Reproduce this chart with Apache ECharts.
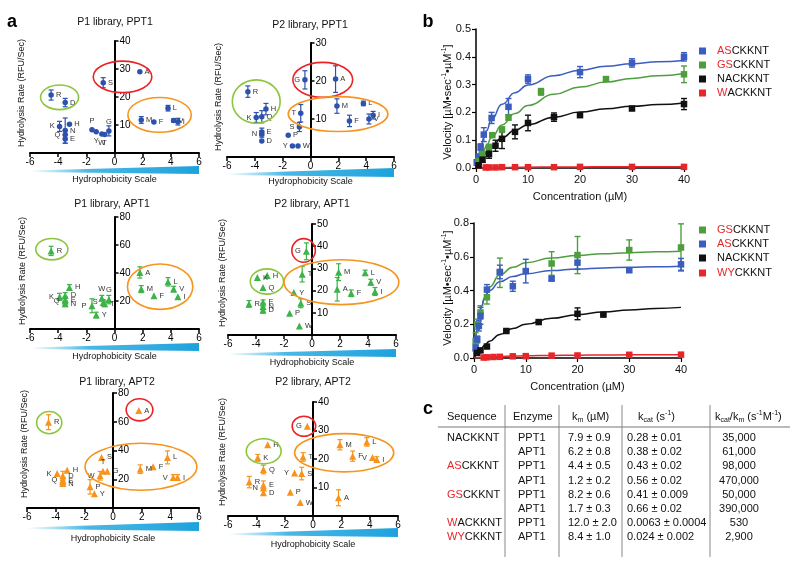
<!DOCTYPE html>
<html><head><meta charset="utf-8">
<script src="https://cdn.jsdelivr.net/npm/echarts/dist/echarts.min.js"></script>
<style>html,body{margin:0;padding:0;background:#fff}#c{width:800px;height:567px}</style>
</head><body><div id="c"></div>
<script>
// ---------------- DATA ----------------
const aminoAcids    = ['R','K','N','D','Q','E','H','P','Y','W','S','T','G','A','M','F','L','V','I'];
const hydrophobicity = [-4.5,-3.9,-3.5,-3.5,-3.5,-3.5,-3.2,-1.6,-1.3,-0.9,-0.8,-0.7,-0.4,1.8,1.9,2.8,3.8,4.2,4.5];

const p1Ppt1Rate = [20.7,9.5,8.0,18.0,6.5,5.0,10.3,8.3,7.6,6.8,25.1,6.6,7.9,29.0,11.8,11.1,16.0,11.6,11.2];
const p1Ppt1Err  = [1.8,1.8,4.5,1.5,1.5,1.5,0,0,0,0,1.8,0,1.8,0,1.2,0,1.0,0.6,1.2];
const p2Ppt1Rate = [17.2,10.4,6.0,4.2,10.6,6.6,12.6,5.7,2.9,2.9,7.9,11.5,20.3,20.5,13.4,9.5,14.1,10.0,11.0];
const p2Ppt1Err  = [1.5,1.3,0.8,0,1.6,1.0,1.5,0,0,0,1.2,2.3,2.4,3.5,1.9,1.5,0.6,1.3,1.0];
const p1Apt1Rate = [55.8,23.0,18.0,24.0,20.0,21.0,29.7,16.6,10.0,22.0,19.0,18.0,21.0,40.4,28.5,23.8,33.7,28.5,23.0];
const p1Apt1Err  = [3.3,2.5,2,2,2,2,2,5,2,2,2,2,3,4,2.5,0,3,2,0];
const p2Apt1Rate = [14.0,25.9,12.8,11.3,21.4,14.8,26.8,9.8,19.1,4.1,14.3,27.4,37.7,20.6,28.3,18.8,28.0,23.8,19.6];
const p2Apt1Err  = [1.5,0,1.5,1.5,0,1.0,0,0,0,0,2.0,3.5,3.8,5.3,3.8,1.5,1.2,1.3,1.8];
const p1Apt2Rate = [59.7,24.0,17.0,22.5,19.5,18.5,26.3,14.7,10.0,22.4,35.2,25.6,25.6,67.8,27.0,28.7,35.2,21.2,21.2];
const p1Apt2Err  = [5.2,0,2,3,2,2,0,5,0,3,0,0,0,0,3,0,4.5,2,2];
const p2Apt2Rate = [11.9,20.4,9.8,8.2,16.3,10.8,25.0,8.3,15.1,4.7,14.9,20.7,31.5,6.4,25.0,21.0,26.0,20.5,19.8];
const p2Apt2Err  = [2.0,1.2,0,0,1.5,1.5,0,0,0,0,2.2,1.5,0,2.8,1.8,1.8,1.5,0,1.0];

// panel b : PPT1 (top)
const asPpt1Conc = [0.15,0.5,0.9,1.5,3.0,6.25,10,20,30,40];
const asPpt1Vel  = [0.02,0.04,0.075,0.12,0.18,0.22,0.32,0.345,0.378,0.40];
const asPpt1Err  = [0.01,0.01,0.012,0.025,0.02,0.03,0.015,0.02,0.015,0.015];
const gsPpt1Conc = [0.5,1.25,2.5,3.125,5,6.25,12.5,25,40];
const gsPpt1Vel  = [0.025,0.05,0.075,0.118,0.138,0.182,0.274,0.32,0.337];
const gsPpt1Err  = [0.005,0.01,0.01,0.005,0.01,0.01,0.012,0.008,0.03];
const naPpt1Conc = [0.5,1.25,2.5,3.75,5,7.5,10,15,20,30,40];
const naPpt1Vel  = [0.01,0.03,0.05,0.08,0.105,0.13,0.162,0.183,0.19,0.214,0.23];
const naPpt1Err  = [0.005,0.01,0.015,0.02,0.035,0.025,0.028,0.015,0.005,0.005,0.02];
const waPpt1Conc = [1.875,2.5,3.75,5,7.5,10,15,20,30,40];
const waPpt1Vel  = [0.002,0.002,0.002,0.003,0.003,0.003,0.003,0.004,0.004,0.004];
// panel b : APT1 (bottom)
const gsApt1Conc = [0.3125,0.625,1.25,2.5,5,15,20,30,40];
const gsApt1Vel  = [0.1,0.2,0.27,0.36,0.505,0.56,0.61,0.64,0.655];
const gsApt1Err  = [0.05,0.03,0.04,0.04,0.087,0.07,0.11,0.06,0.14];
const asApt1Conc = [0.3125,0.625,0.9375,1.25,2.5,5,7.5,10,15,20,30,40];
const asApt1Vel  = [0.06,0.11,0.19,0.25,0.405,0.51,0.425,0.515,0.47,0.565,0.52,0.555];
const asApt1Err  = [0.02,0.02,0.03,0.05,0.03,0.04,0.03,0.07,0.01,0.04,0.01,0.035];
const naApt1Conc = [0.625,1.25,2.5,6.25,12.5,20,25];
const naApt1Vel  = [0.03,0.045,0.068,0.16,0.213,0.262,0.257];
const naApt1Err  = [0,0,0.01,0.005,0.005,0.035,0.005];
const wyApt1Conc = [1.875,2.5,3.75,5,7.5,10,15,20,30,40];
const wyApt1Vel  = [0.003,0.004,0.006,0.007,0.01,0.011,0.014,0.015,0.019,0.02];

// fitted curves
const curveConc = [0,0.25,0.5,0.75,1,1.5,2,3,5,7.5,10,15,20,25,30,35,40];
const asPpt1Fit = [0,.023,.044,.063,.080,.110,.134,.175,.229,.271,.299,.332,.352,.366,.375,.382,.387];
const gsPpt1Fit = [0,.012,.024,.034,.045,.063,.081,.110,.155,.196,.225,.265,.291,.309,.322,.332,.340];
const naPpt1Fit = [0,.009,.017,.024,.031,.045,.057,.077,.109,.136,.156,.183,.201,.213,.222,.228,.234];
const waPpt1Fit = [0,.0001,.0003,.0004,.0005,.0007,.001,.0013,.0019,.0025,.0029,.0035,.0040,.0043,.0045,.0047,.0048];
const gsApt1Fit = [0,.085,.150,.202,.244,.309,.357,.421,.493,.538,.564,.593,.608,.618,.624,.629,.633];
const asApt1Fit = [0,.097,.165,.215,.255,.311,.350,.400,.452,.483,.500,.518,.528,.534,.538,.541,.544];
const naApt1Fit = [0,.011,.022,.032,.042,.059,.075,.100,.140,.175,.200,.235,.257,.273,.285,.294,.300];
const wyApt1Fit = [0,.0007,.0014,.002,.0026,.0036,.0046,.0063,.009,.0113,.013,.0154,.0169,.018,.0188,.0194,.0198];

// panel c table
const tableSeqRed  = ['', '', 'AS', '', 'GS', '', 'W', 'WY'];
const tableSeqRest = ['NACKKNT', '', 'CKKNT', '', 'CKKNT', '', 'ACKKNT', 'CKKNT'];
const tableEnzyme  = ['PPT1','APT1','PPT1','APT1','PPT1','APT1','PPT1','APT1'];
const tableKm      = ['7.9 ± 0.9','6.2 ± 0.8','4.4 ± 0.5','1.2 ± 0.2','8.2 ± 0.6','1.7 ± 0.3','12.0 ± 2.0','8.4 ± 1.0'];
const tableKcat    = ['0.28 ± 0.01','0.38 ± 0.02','0.43 ± 0.02','0.56 ± 0.02','0.41 ± 0.009','0.66 ± 0.02','0.0063 ± 0.0004','0.024 ± 0.002'];
const tableEff     = ['35,000','61,000','98,000','470,000','50,000','390,000','530','2,900'];

// ---------------- STYLE / LAYOUT ----------------
const FONT = '"Liberation Sans", Arial, Helvetica, sans-serif';
const BLUE_A = '#2d52ad', GREEN_A = '#3db34a', ORANGE_A = '#f7941d';
const GREEN_E = '#8cc63f', RED_E = '#ec2227', ORANGE_E = '#f7941d';
const BLUE_B = '#3a5dbf', GREEN_B = '#4f9e3e', RED_B = '#e8262a', BLACK_B = '#111111';

const panelsA = [
  {title:'P1 library, PPT1', rate:p1Ppt1Rate, err:p1Ppt1Err, yMax:40, yInt:10, grid:[30,41,169,112], color:BLUE_A, symbol:'circle',
   titleXY:[115,22], yLabelXY:[22,93], wedgeY:[166,174], scaleY:180,
   labelPos:{K:'left',Q:'left',P:'top',Y:'bottom',T:'bottom',W:'bottom',G:'top'},
   ellipses:[[-3.9,19.9,1.35,4.4,GREEN_E],[0.57,27.2,2.08,5.6,RED_E],[3.2,13.6,2.25,6.2,ORANGE_E]]},
  {title:'P2 library, PPT1', rate:p2Ppt1Rate, err:p2Ppt1Err, yMax:30, yInt:10, grid:[227,43,167,114], color:BLUE_A, symbol:'circle',
   titleXY:[310,25], yLabelXY:[219,97], wedgeY:[168,177], scaleY:182,
   labelPos:{K:'left',N:'left',Y:'left',S:'left',T:'left',G:'left'},
   ellipses:[[-3.9,14.6,1.72,5.7,GREEN_E],[0.88,20.3,2.15,4.6,RED_E],[1.98,11.3,3.58,4.6,ORANGE_E]]},
  {title:'P1 library, APT1', rate:p1Apt1Rate, err:p1Apt1Err, yMax:80, yInt:20, grid:[30,217,169,112], color:GREEN_A, symbol:'triangle',
   titleXY:[112,204], yLabelXY:[23,271], wedgeY:[343,351], scaleY:357,
   labelPos:{K:'left',Q:'left',P:'left',W:'top',S:'left',G:'top'},
   ellipses:[[-4.45,57,1.14,7.6,GREEN_E],[3.24,30.2,2.32,16.2,ORANGE_E]]},
  {title:'P2 library, APT1', rate:p2Apt1Rate, err:p2Apt1Err, yMax:50, yInt:10, grid:[228,224,168,111], color:GREEN_A, symbol:'triangle',
   titleXY:[312,204], yLabelXY:[223,273], wedgeY:[349,357], scaleY:363,
   labelPos:{G:'left'},
   ellipses:[[-0.6,38.1,0.84,5.3,RED_E],[-3.22,24.1,1.19,5.7,GREEN_E],[2.1,23.8,4.1,10.1,ORANGE_E]]},
  {title:'P1 library, APT2', rate:p1Apt2Rate, err:p1Apt2Err, yMax:80, yInt:20, grid:[27,393,172,115], color:ORANGE_A, symbol:'triangle',
   titleXY:[117,382], yLabelXY:[25,444], wedgeY:[522,531], scaleY:539,
   labelPos:{K:'left',Q:'left',W:'left',T:'top',V:'left'},
   ellipses:[[-4.45,59.4,0.88,7.7,GREEN_E],[1.85,68.3,0.93,7.7,RED_E],[1.95,28.7,3.9,16.3,ORANGE_E]]},
  {title:'P2 library, APT2', rate:p2Apt2Rate, err:p2Apt2Err, yMax:40, yInt:10, grid:[228,402,170,114], color:ORANGE_A, symbol:'triangle',
   titleXY:[313,382], yLabelXY:[223,452], wedgeY:[528,537], scaleY:545,
   labelPos:{N:'left',Y:'left',G:'left',V:'left'},
   ellipses:[[-0.64,31.5,0.83,3.5,RED_E],[-3.48,22.7,1.23,4.4,GREEN_E],[2.2,22.2,3.5,6.7,ORANGE_E]]}
];

const panelsB = [
  {grid:[476,29,208,139], yMax:0.5, yInt:0.1, yLabelXY:[448,102], xNameY:197, legendY:[51,65,79,93],
   sets:[
     {red:'AS', rest:'CKKNT', color:BLUE_B, conc:asPpt1Conc, vel:asPpt1Vel, err:asPpt1Err, fit:asPpt1Fit},
     {red:'GS', rest:'CKKNT', color:GREEN_B, conc:gsPpt1Conc, vel:gsPpt1Vel, err:gsPpt1Err, fit:gsPpt1Fit},
     {red:'', rest:'NACKKNT', color:BLACK_B, conc:naPpt1Conc, vel:naPpt1Vel, err:naPpt1Err, fit:naPpt1Fit},
     {red:'W', rest:'ACKKNT', color:RED_B, conc:waPpt1Conc, vel:waPpt1Vel, err:null, fit:waPpt1Fit}]},
  {grid:[474,223,207,135], yMax:0.8, yInt:0.2, yLabelXY:[448,288], xNameY:387, legendY:[230,244,258,273],
   sets:[
     {red:'GS', rest:'CKKNT', color:GREEN_B, conc:gsApt1Conc, vel:gsApt1Vel, err:gsApt1Err, fit:gsApt1Fit},
     {red:'AS', rest:'CKKNT', color:BLUE_B, conc:asApt1Conc, vel:asApt1Vel, err:asApt1Err, fit:asApt1Fit},
     {red:'', rest:'NACKKNT', color:BLACK_B, conc:naApt1Conc, vel:naApt1Vel, err:naApt1Err, fit:naApt1Fit},
     {red:'WY', rest:'CKKNT', color:RED_B, conc:wyApt1Conc, vel:wyApt1Vel, err:null, fit:wyApt1Fit}]}
];

// ---------------- BUILD ----------------
function errRender(color, capW, lw) {
  return function (params, api) {
    const x = api.value(0), y = api.value(1), e = api.value(2);
    const lo = api.coord([x, y - e]), hi = api.coord([x, y + e]);
    const st = {stroke: color, lineWidth: lw};
    return {type: 'group', children: [
      {type: 'line', shape: {x1: lo[0], y1: lo[1], x2: hi[0], y2: hi[1]}, style: st},
      {type: 'line', shape: {x1: lo[0] - capW / 2, y1: lo[1], x2: lo[0] + capW / 2, y2: lo[1]}, style: st},
      {type: 'line', shape: {x1: hi[0] - capW / 2, y1: hi[1], x2: hi[0] + capW / 2, y2: hi[1]}, style: st}
    ]};
  };
}

const grids = [], xAxes = [], yAxes = [], series = [];
panelsA.forEach((p, gi) => {
  grids.push({left: p.grid[0], top: p.grid[1], width: p.grid[2], height: p.grid[3], containLabel: false, outerBoundsMode: 'none'});
  xAxes.push({gridIndex: gi, type: 'value', min: -6, max: 6, interval: 2,
    axisLine: {onZero: false, lineStyle: {color: '#000', width: 2}},
    axisTick: {show: true, length: 4, lineStyle: {color: '#000', width: 1.5}},
    axisLabel: {color: '#000', fontSize: 10, margin: 4, fontFamily: FONT, hideOverlap: false},
    splitLine: {show: false}});
  // the y axis sits at x = 0, i.e. half of the grid width to the right of its left edge
  yAxes.push({gridIndex: gi, type: 'value', min: 0, max: p.yMax, interval: p.yInt,
    position: 'left', offset: -p.grid[2] / 2,
    axisLine: {show: true, onZero: false, lineStyle: {color: '#000', width: 2}},
    axisTick: {show: true, inside: true, length: 4, lineStyle: {color: '#000', width: 1.5}},
    axisLabel: {inside: true, showMinLabel: false, color: '#000', fontSize: 10, margin: 5, fontFamily: FONT},
    splitLine: {show: false}});
  series.push({type: 'custom', xAxisIndex: gi, yAxisIndex: gi, silent: true, z: 2,
    renderItem: errRender(p.color, 5, 1.2),
    data: aminoAcids.map((aa, i) => [hydrophobicity[i], p.rate[i], p.err[i]]).filter(d => d[2] > 0)});
  series.push({type: 'scatter', xAxisIndex: gi, yAxisIndex: gi, z: 3, silent: true,
    symbol: p.symbol, symbolSize: p.symbol === 'circle' ? 5.5 : 7,
    itemStyle: {color: p.color, opacity: 1},
    label: {show: true, formatter: '{b}', fontSize: 7.5, color: '#333', distance: 2, fontFamily: FONT},
    data: aminoAcids.map((aa, i) => ({name: aa, value: [hydrophobicity[i], p.rate[i]],
      label: {position: p.labelPos[aa] || 'right'}}))});
});

panelsB.forEach((p, k) => {
  const gi = panelsA.length + k;
  grids.push({left: p.grid[0], top: p.grid[1], width: p.grid[2], height: p.grid[3], containLabel: false, outerBoundsMode: 'none'});
  xAxes.push({gridIndex: gi, type: 'value', min: 0, max: 40, interval: 10,
    axisLine: {onZero: false, lineStyle: {color: '#000', width: 1.5}},
    axisTick: {show: true, length: 4, lineStyle: {color: '#000', width: 1.2}},
    axisLabel: {color: '#111', fontSize: 11, margin: 6, fontFamily: FONT},
    splitLine: {show: false}});
  yAxes.push({gridIndex: gi, type: 'value', min: 0, max: p.yMax, interval: p.yInt,
    axisLine: {show: true, onZero: false, lineStyle: {color: '#000', width: 1.5}},
    axisTick: {show: true, length: 4, lineStyle: {color: '#000', width: 1.2}},
    axisLabel: {color: '#111', fontSize: 11, margin: 5, fontFamily: FONT, formatter: v => v.toFixed(1)},
    splitLine: {show: false}});
  p.sets.forEach(s => {
    series.push({type: 'line', xAxisIndex: gi, yAxisIndex: gi, z: 2, silent: true, showSymbol: false,
      smooth: true, smoothMonotone: 'x', lineStyle: {color: s.color, width: 1.5},
      data: curveConc.map((c, i) => [c, s.fit[i]])});
    if (s.err) series.push({type: 'custom', xAxisIndex: gi, yAxisIndex: gi, z: 3, silent: true,
      renderItem: errRender(s.color, 6, 1.4),
      data: s.conc.map((c, i) => [c, s.vel[i], s.err[i]]).filter(d => d[2] > 0)});
    series.push({type: 'scatter', xAxisIndex: gi, yAxisIndex: gi, z: 4, silent: true,
      symbol: 'rect', symbolSize: 6.5, itemStyle: {color: s.color, opacity: 1},
      data: s.conc.map((c, i) => [c, s.vel[i]])});
  });
});

const chart = echarts.init(document.getElementById('c'), null, {renderer: 'canvas', width: 800, height: 567});
chart.setOption({animation: false, backgroundColor: '#fff', grid: grids, xAxis: xAxes, yAxis: yAxes, series: series});

// ---------------- GRAPHIC (texts, wedges, ellipses, legends, table) ----------------
const G = [];
function txt(x, y, text, o) {
  o = o || {};
  G.push({type: 'text', x: x, y: y, rotation: o.rot || 0, z: 10, silent: true,
    style: {text: text, fill: o.fill || '#111', fontSize: o.size || 11, fontFamily: FONT,
      fontWeight: o.weight || 'normal', align: o.align || 'center', verticalAlign: o.va || 'middle', rich: o.rich}});
}
const richBase = {
  k: {fontSize: 11, fontFamily: FONT, fill: '#111', lineHeight: 14},
  s: {fontSize: 7, fontFamily: FONT, fill: '#111', lineHeight: 8, verticalAlign: 'bottom'},
  p: {fontSize: 7, fontFamily: FONT, fill: '#111', lineHeight: 8, verticalAlign: 'top'},
  r: {fontSize: 11, fontFamily: FONT, fill: RED_B, lineHeight: 14}
};

txt(12, 22, 'a', {size: 18, weight: 'bold', fill: '#000'});
txt(428, 22, 'b', {size: 18, weight: 'bold', fill: '#000'});
txt(428, 409, 'c', {size: 18, weight: 'bold', fill: '#000'});

panelsA.forEach((p, gi) => {
  txt(p.titleXY[0], p.titleXY[1], p.title, {size: 10.5});
  txt(p.yLabelXY[0], p.yLabelXY[1], 'Hydrolysis Rate (RFU/Sec)', {size: 9, rot: Math.PI / 2});
  const gl = p.grid[0], gr = p.grid[0] + p.grid[2];
  G.push({type: 'polygon', silent: true, z: 5,
    shape: {points: [[gl, p.wedgeY[1] - 3.5], [gr, p.wedgeY[0]], [gr, p.wedgeY[1]], [gl, p.wedgeY[1] - 2]]},
    style: {fill: new echarts.graphic.LinearGradient(0, 0, 1, 0, [
      {offset: 0, color: 'rgba(41,171,226,0)'}, {offset: 0.35, color: 'rgba(41,171,226,0.85)'}, {offset: 1, color: '#1da2dc'}])}});
  txt((gl + gr) / 2, p.scaleY, 'Hydrophobicity Scale', {size: 9});
  p.ellipses.forEach(e => {
    const c = chart.convertToPixel({gridIndex: gi}, [e[0], e[1]]);
    const r = chart.convertToPixel({gridIndex: gi}, [e[0] + e[2], e[1] + e[3]]);
    G.push({type: 'ellipse', silent: true, z: 6,
      shape: {cx: c[0], cy: c[1], rx: Math.abs(r[0] - c[0]), ry: Math.abs(c[1] - r[1])},
      style: {stroke: e[4], lineWidth: 1.6, fill: 'none'}});
  });
});

panelsB.forEach(p => {
  G.push({type: 'text', x: p.yLabelXY[0], y: p.yLabelXY[1], rotation: Math.PI / 2, z: 10, silent: true,
    style: {text: '{k|Velocity [µM•sec}{p|-1}{k|•µM}{p|-1}{k|]}', rich: richBase, align: 'center', verticalAlign: 'middle'}});
  txt(p.grid[0] + p.grid[2] / 2, p.xNameY, 'Concentration (µM)', {size: 11});
  p.sets.forEach((s, i) => {
    const y = p.legendY[i];
    G.push({type: 'rect', silent: true, z: 10, shape: {x: 699, y: y - 3.5, width: 7, height: 7}, style: {fill: s.color}});
    G.push({type: 'text', x: 717, y: y, z: 10, silent: true,
      style: {text: (s.red ? '{r|' + s.red + '}' : '') + '{k|' + s.rest + '}', rich: richBase, align: 'left', verticalAlign: 'middle'}});
  });
});

// table
const colSeq = 447, colEnz = 518, colKm = 568, colKcat = 627, colEff = 739;
const headerY = 417, row0 = 438, rowH = 14.2;
txt(colSeq, headerY, 'Sequence', {align: 'left'});
txt(513, headerY, 'Enzyme', {align: 'left'});
G.push({type: 'text', x: 572, y: headerY, z: 10, silent: true,
  style: {text: '{k|k}{s|m}{k| (µM)}', rich: richBase, align: 'left', verticalAlign: 'middle'}});
G.push({type: 'text', x: 638, y: headerY, z: 10, silent: true,
  style: {text: '{k|k}{s|cat}{k| (s}{p|-1}{k|)}', rich: richBase, align: 'left', verticalAlign: 'middle'}});
G.push({type: 'text', x: 715, y: headerY, z: 10, silent: true,
  style: {text: '{k|k}{s|cat}{k|/k}{s|m}{k| (s}{p|-1}{k|M}{p|-1}{k|)}', rich: richBase, align: 'left', verticalAlign: 'middle'}});
G.push({type: 'line', silent: true, shape: {x1: 438, y1: 427, x2: 790, y2: 427}, style: {stroke: '#777', lineWidth: 1}});
[505, 559, 622, 710].forEach(x => G.push({type: 'line', silent: true, shape: {x1: x, y1: 405, x2: x, y2: 557}, style: {stroke: '#888', lineWidth: 1}}));
tableEnzyme.forEach((enz, i) => {
  const y = row0 + i * rowH;
  if (tableSeqRed[i] || tableSeqRest[i]) {
    G.push({type: 'text', x: colSeq, y: y, z: 10, silent: true,
      style: {text: (tableSeqRed[i] ? '{r|' + tableSeqRed[i] + '}' : '') + '{k|' + tableSeqRest[i] + '}', rich: richBase, align: 'left', verticalAlign: 'middle'}});
  }
  txt(colEnz, y, enz, {align: 'left'});
  txt(colKm, y, tableKm[i], {align: 'left'});
  txt(colKcat, y, tableKcat[i], {align: 'left'});
  txt(colEff, y, tableEff[i], {align: 'center'});
});

chart.setOption({graphic: G});
</script></body></html>
